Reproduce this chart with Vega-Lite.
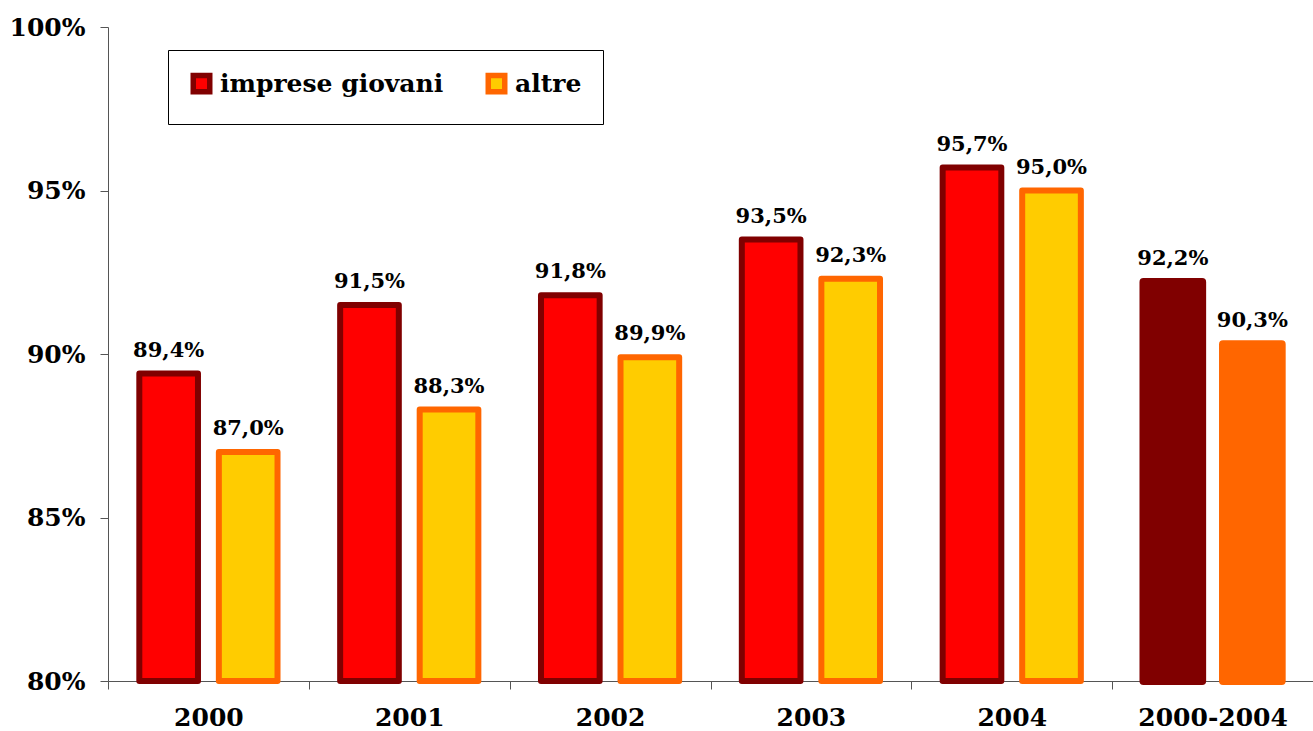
{
  "$schema": "https://vega.github.io/schema/vega-lite/v6.json",
  "width": 1205,
  "height": 654,
  "autosize": {"type": "none"},
  "padding": {"left": 108, "top": 27, "right": 0, "bottom": 50},
  "background": "white",
  "config": {
    "locale": {"number": {"decimal": ",", "thousands": ".", "grouping": [3], "currency": ["", " €"]}},
    "view": {"stroke": null},
    "font": "DejaVu Serif",
    "axis": {
      "domainColor": "#555555",
      "tickColor": "#555555",
      "tickSize": 8,
      "domainWidth": 1,
      "tickWidth": 1,
      "grid": false,
      "labelFont": "DejaVu Serif",
      "labelFontSize": 25,
      "labelFontWeight": "bold",
      "labelColor": "black",
      "title": null
    },
    "legend": {
      "orient": "none",
      "legendX": 60,
      "legendY": 23,
      "direction": "horizontal",
      "title": null,
      "strokeColor": "black",
      "fillColor": "white",
      "padding": 21,
      "symbolType": "square",
      "symbolSize": 272,
      "symbolStrokeWidth": 5.5,
      "symbolOpacity": 1,
      "labelFont": "DejaVu Serif",
      "labelFontSize": 25,
      "labelFontWeight": "bold",
      "labelColor": "black",
      "labelOffset": 6,
      "labelLimit": 400,
      "columnPadding": 33
    }
  },
  "data": {
    "values": [
      {"anno": "2000", "serie": "imprese giovani", "valore": 0.894},
      {"anno": "2000", "serie": "altre", "valore": 0.870},
      {"anno": "2001", "serie": "imprese giovani", "valore": 0.915},
      {"anno": "2001", "serie": "altre", "valore": 0.883},
      {"anno": "2002", "serie": "imprese giovani", "valore": 0.918},
      {"anno": "2002", "serie": "altre", "valore": 0.899},
      {"anno": "2003", "serie": "imprese giovani", "valore": 0.935},
      {"anno": "2003", "serie": "altre", "valore": 0.923},
      {"anno": "2004", "serie": "imprese giovani", "valore": 0.957},
      {"anno": "2004", "serie": "altre", "valore": 0.950},
      {"anno": "2000-2004", "serie": "imprese giovani", "valore": 0.922},
      {"anno": "2000-2004", "serie": "altre", "valore": 0.903}
    ]
  },
  "encoding": {
    "x": {
      "field": "anno",
      "type": "nominal",
      "sort": null,
      "scale": {"paddingInner": 0, "paddingOuter": 0},
      "axis": {"tickBand": "extent", "labelAngle": 0, "labelPadding": 16}
    },
    "xOffset": {
      "field": "serie",
      "type": "nominal",
      "sort": ["imprese giovani", "altre"],
      "scale": {"paddingInner": 0.2625, "paddingOuter": 0.39375}
    },
    "y": {
      "field": "valore",
      "type": "quantitative",
      "scale": {"domain": [0.8, 1.0], "zero": false, "nice": false, "clamp": true},
      "axis": {"format": ".0%", "values": [0.8, 0.85, 0.9, 0.95, 1.0], "labelPadding": 15}
    }
  },
  "layer": [
    {
      "transform": [{"filter": "datum.anno !== '2000-2004'"}],
      "mark": {"type": "bar", "strokeWidth": 6, "strokeJoin": "round"},
      "encoding": {
        "fill": {
          "field": "serie",
          "type": "nominal",
          "sort": ["imprese giovani", "altre"],
          "scale": {"domain": ["imprese giovani", "altre"], "range": ["#FF0000", "#FFCC00"]}
        },
        "stroke": {
          "field": "serie",
          "type": "nominal",
          "sort": ["imprese giovani", "altre"],
          "scale": {"domain": ["imprese giovani", "altre"], "range": ["#800000", "#FF6600"]}
        }
      }
    },
    {
      "transform": [{"filter": "datum.anno === '2000-2004'"}],
      "mark": {"type": "bar", "strokeWidth": 8, "strokeJoin": "round"},
      "encoding": {
        "color": {
          "field": "serie",
          "type": "nominal",
          "scale": {"domain": ["altre", "imprese giovani"], "range": ["#FF6600", "#800000"]},
          "legend": null
        },
        "stroke": {
          "field": "serie",
          "type": "nominal",
          "sort": ["imprese giovani", "altre"]
        }
      }
    },
    {
      "mark": {"type": "text", "dy": -17, "baseline": "alphabetic", "fontSize": 21, "fontWeight": "bold", "font": "DejaVu Serif", "color": "black"},
      "encoding": {
        "text": {"field": "valore", "type": "quantitative", "format": ".1%"}
      }
    }
  ],
  "resolve": {"legend": {"color": "independent"}}
}
